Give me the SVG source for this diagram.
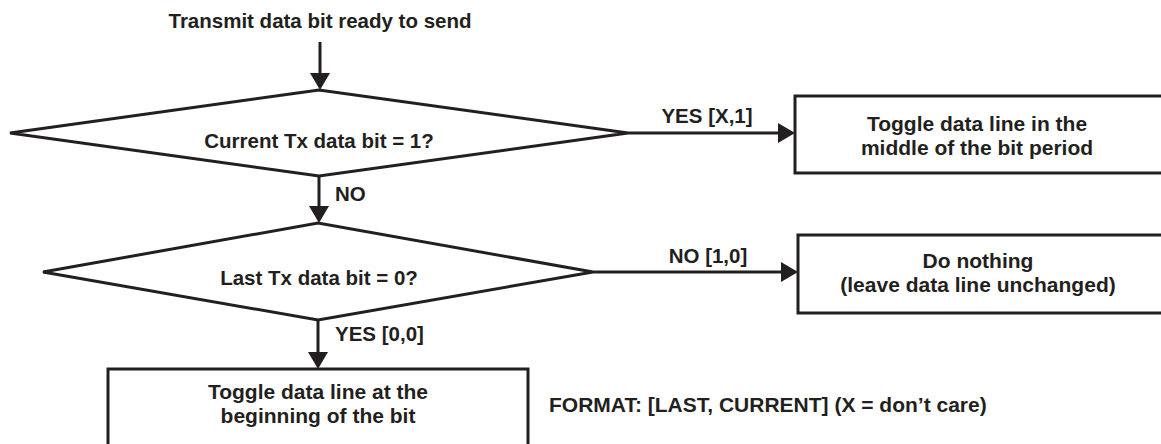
<svg xmlns="http://www.w3.org/2000/svg" width="1161" height="444" viewBox="0 0 1161 444">
<style>
text{font-family:"Liberation Sans",Arial,Helvetica,sans-serif;font-weight:bold;font-size:20.5px;fill:#231f20}
.c{text-anchor:middle}
.b{font-size:21px}
.shape{fill:#fff;stroke:#231f20;stroke-width:3}
.conn{fill:none;stroke:#231f20;stroke-width:3}
</style>
<defs>
<marker id="ah" markerUnits="userSpaceOnUse" markerWidth="17" markerHeight="20" refX="14" refY="10" orient="auto">
<path d="M0,0 L17,10 L0,20 z" fill="#231f20"/>
</marker>
</defs>
<rect width="1161" height="444" fill="#fff"/>
<g id="start">
<text class="c" x="320" y="28">Transmit data bit ready to send</text>
</g>
<g id="connectors">
<path class="conn" d="M320,42 V87" marker-end="url(#ah)"/>
<path class="conn" d="M319,176 V220" marker-end="url(#ah)"/>
<path class="conn" d="M628,133 H792" marker-end="url(#ah)"/>
<path class="conn" d="M593,272 H795" marker-end="url(#ah)"/>
<path class="conn" d="M318,320 V366" marker-end="url(#ah)"/>
<text x="335" y="201">NO</text>
<text class="c" x="707" y="123">YES [X,1]</text>
<text class="c" x="708" y="263">NO [1,0]</text>
<text x="335" y="341">YES [0,0]</text>
</g>
<g id="decision1">
<polygon class="shape" points="10,133 319,90 628,133 319,176"/>
<text class="c" x="319" y="148">Current Tx data bit = 1?</text>
</g>
<g id="toggle-middle">
<rect class="shape" x="795" y="96" width="372" height="77"/>
<text class="c b" x="977" y="131">Toggle data line in the</text>
<text class="c b" x="977" y="155">middle of the bit period</text>
</g>
<g id="decision2">
<polygon class="shape" points="43,272 318,223 593,272 318,320"/>
<text class="c" x="319" y="285">Last Tx data bit = 0?</text>
</g>
<g id="do-nothing">
<rect class="shape" x="798" y="235" width="370" height="78"/>
<text class="c b" x="978" y="268">Do nothing</text>
<text class="c b" x="978" y="292">(leave data line unchanged)</text>
</g>
<g id="toggle-beginning">
<rect class="shape" x="108" y="369" width="420" height="90"/>
<text class="c b" x="318" y="399">Toggle data line at the</text>
<text class="c b" x="318" y="423">beginning of the bit</text>
</g>
<g id="format-note">
<text class="b" x="549" y="412">FORMAT: [LAST, CURRENT] (X = don’t care)</text>
</g>
</svg>
